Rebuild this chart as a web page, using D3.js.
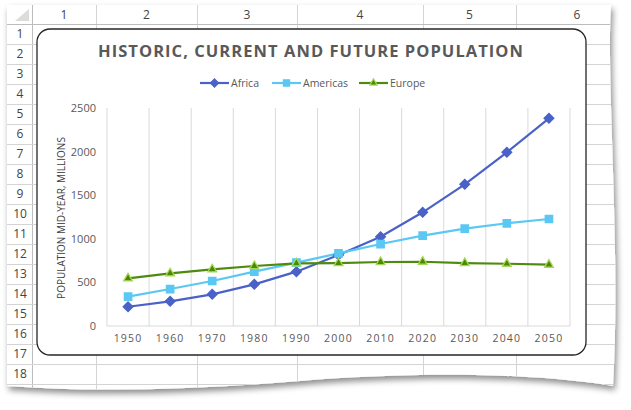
<!DOCTYPE html>
<html><head><meta charset="utf-8">
<script src="https://cdn.jsdelivr.net/npm/d3@7"></script>
<style>body{margin:0;background:#fff;} svg{display:block;}</style>
</head><body>
<svg id="c" width="631" height="410"></svg>
<script>
const years = [1950,1960,1970,1980,1990,2000,2010,2020,2030,2040,2050];
const africa = [221,283,363,478,623,814,1024,1304,1625,1992,2382];
const americas = [336,424,516,623,726,833,940,1036,1116,1178,1227];
const europe = [547,604,650,688,719,722,734,737,722,714,703];
const yTicks = [0,500,1000,1500,2000,2500];
const seriesNames = ["Africa","Americas","Europe"];
const colLabels = ["1","2","3","4","5","6"];
const rowLabels = d3.range(1,19).map(String);

const svg = d3.select("#c");
const defs = svg.append("defs");
const f = defs.append("filter").attr("id","sh").attr("x","-5%").attr("y","-5%").attr("width","115%").attr("height","120%");
f.append("feDropShadow").attr("dx",2).attr("dy",4).attr("stdDeviation",3).attr("flood-color","#000").attr("flood-opacity",0.45);

const sheetPath = "M7,5 L611,5 C606,80 621,250 613,386 C520,371 400,373 300,381 C200,389 100,393 7,386 Z";
defs.append("clipPath").attr("id","sc").append("path").attr("d",sheetPath);
svg.append("path").attr("d",sheetPath).attr("fill","#fff").attr("filter","url(#sh)");

const grid = svg.append("g").attr("clip-path","url(#sc)");
const colLines = [32,96,197,297,423,516];
const colCenters = [64,146.5,247,360,469.5,577];
const gc = "#d4d4d4";
colLines.forEach(x=>grid.append("line").attr("x1",x).attr("x2",x).attr("y1",5).attr("y2",400).attr("stroke",x===32?"#bdbdbd":gc).attr("stroke-width",1).attr("shape-rendering","crispEdges"));
d3.range(0,19).forEach(k=>{const y=24+20*k; grid.append("line").attr("x1",7).attr("x2",640).attr("y1",y).attr("y2",y).attr("stroke",k===0?"#bdbdbd":gc).attr("shape-rendering","crispEdges");});
grid.append("path").attr("d","M15,21 L29,21 L29,9 Z").attr("fill","#dcdcdc");
colLabels.forEach((t,i)=>grid.append("text").attr("x",colCenters[i]).attr("y",19).attr("text-anchor","middle").attr("font-family","'Open Sans',sans-serif").attr("font-size",12).attr("fill","#444").text(t));
rowLabels.forEach((t,i)=>grid.append("text").attr("x",20).attr("y",38+20*i).attr("text-anchor","middle").attr("font-family","'Open Sans',sans-serif").attr("font-size",12).attr("fill","#444").text(t));

// chart box
svg.append("rect").attr("x",37).attr("y",29).attr("width",549).attr("height",326).attr("rx",13).attr("fill","#fff").attr("stroke","#262626").attr("stroke-width",1.3);

// title
const title = svg.append("text").attr("x",311).attr("y",57).attr("text-anchor","middle").attr("font-family","'Open Sans',sans-serif").attr("font-weight","bold").attr("font-size",16.5).attr("fill","#595959").text("HISTORIC, CURRENT AND FUTURE POPULATION");
{const n = title.text().length; const w = title.node().getComputedTextLength(); title.attr("letter-spacing",((426-w)/n)+"px");}

const x = d3.scaleBand().domain(years).range([107,570]).paddingInner(0).paddingOuter(0);
const y = d3.scaleLinear().domain([0,2500]).range([326,108]);

// vertical gridlines at band boundaries
const bounds = years.map(d=>x(d)).concat([x(years[years.length-1])+x.bandwidth()]);
svg.append("g").selectAll("line").data(bounds).join("line")
  .attr("x1",d=>d).attr("x2",d=>d).attr("y1",y(2500)).attr("y2",y(0)).attr("stroke","#d9d9d9").attr("stroke-width",1);
svg.append("line").attr("x1",bounds[0]).attr("x2",bounds[bounds.length-1]).attr("y1",y(0)).attr("y2",y(0)).attr("stroke","#d9d9d9");

// y axis
const ya = svg.append("g").attr("transform","translate(96,0)").call(d3.axisLeft(y).tickValues(yTicks).tickSize(0).tickPadding(0).tickFormat(d3.format("d")));
ya.select(".domain").remove();
ya.selectAll("text").attr("font-family","'Open Sans',sans-serif").attr("font-size",11).attr("fill","#595959");

// x axis
const xa = svg.append("g").attr("transform",`translate(0,${y(0)})`).call(d3.axisBottom(x).tickSize(0).tickPadding(9));
xa.select(".domain").remove();
xa.selectAll("text").attr("font-family","'Open Sans',sans-serif").attr("font-size",10.5).attr("letter-spacing","1.2px").attr("fill","#595959");

// y title
svg.append("text").attr("transform","translate(65,218) rotate(-90)").attr("text-anchor","middle").attr("font-family","'Open Sans',sans-serif").attr("font-size",10).attr("fill","#404040").text("POPULATION MID-YEAR, MILLIONS");

const series = [
  {name:seriesNames[0], values:africa, color:"#4a62c8", sym:d3.symbolDiamond2, size:60, fill:"#4a62c8", stroke:"#4a62c8"},
  {name:seriesNames[1], values:americas, color:"#5ac8f2", sym:d3.symbolSquare2, size:70, fill:"#5ac8f2", stroke:"#5ac8f2"},
  {name:seriesNames[2], values:europe, color:"#4f8a10", sym:d3.symbolTriangle2, size:55, fill:"#4a8a00", stroke:"#a8d65a"}
];
const cx = d=>x(d)+x.bandwidth()/2;
const line = d3.line().x((v,i)=>cx(years[i])).y(v=>y(v));
series.forEach(s=>{
  svg.append("path").attr("d",line(s.values)).attr("fill","none").attr("stroke",s.color).attr("stroke-width",2.2);
});
series.forEach(s=>{
  svg.append("g").selectAll("path").data(s.values).join("path")
    .attr("d",d3.symbol().type(s.sym).size(s.size))
    .attr("transform",(v,i)=>`translate(${cx(years[i])},${y(v)})`)
    .attr("fill",s.fill).attr("stroke",s.stroke).attr("stroke-width",1.3);
});

// legend
const legX = [200,272,359];
series.forEach((s,i)=>{
  const g = svg.append("g").attr("transform",`translate(${legX[i]},83)`);
  g.append("line").attr("x1",0).attr("x2",29).attr("y1",0).attr("y2",0).attr("stroke",s.color).attr("stroke-width",2.2);
  g.append("path").attr("d",d3.symbol().type(s.sym).size(s.size*0.7)).attr("transform","translate(14.5,0)").attr("fill",s.fill).attr("stroke",s.stroke).attr("stroke-width",1.2);
  g.append("text").attr("x",31).attr("y",4).attr("font-family","'Open Sans',sans-serif").attr("font-size",10.5).attr("fill","#595959").text(s.name);
});
</script>
</body></html>
